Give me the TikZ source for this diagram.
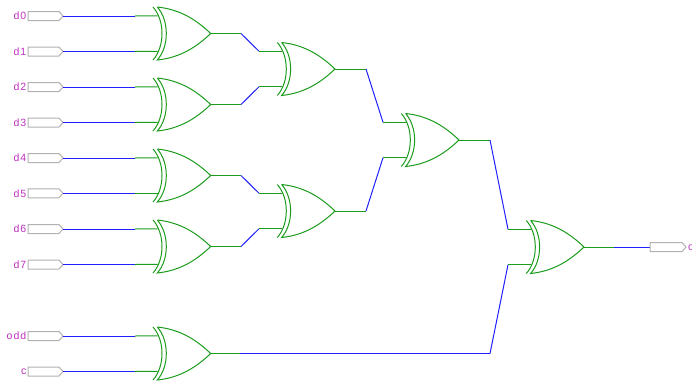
\documentclass[tikz,border=0pt]{standalone}
\usepackage{fontspec}
\setmainfont{Liberation Sans}
\definecolor{gG}{HTML}{1C9C1C}
\definecolor{wB}{HTML}{2020FF}
\definecolor{lP}{HTML}{C030C0}
\tikzset{
  gateline/.style={draw=gG,line width=1pt},
  gw/.style={draw=gG,line width=1pt},
  bw/.style={draw=wB,line width=1pt},
  pin/.style={draw=black!30,line width=1pt,fill=white},
  lab/.style={text=lP,font=\fontsize{10.5}{12}\selectfont,inner sep=0pt,anchor=east},
  xorg/.pic={
    \draw[gateline] (-26.7,-26.5) .. controls (-3,-24) and (13,-13) .. (26.7,0)
       .. controls (13,13) and (-3,24) .. (-26.7,26.5)
       .. controls (-14.7,13) and (-14.7,-13) .. (-26.7,-26.5);
    \draw[gateline] (-31,-26.5) .. controls (-19,-13) and (-19,13) .. (-31,26.5);
    \coordinate (-in1) at (-26.5,-17.75);
    \coordinate (-in2) at (-26.5,17.75);
    \coordinate (-out) at (26.7,0);
  }
}
\newcommand{\inpin}[3]{% name, y, label
  \node[lab] (l#1) at (26.5,#2) {\addfontfeature{LetterSpace=10}#3};
  \draw[pin] (28,#2-4.5) -- (59,#2-4.5) -- (63,#2) -- (59,#2+4.5) -- (28,#2+4.5) -- cycle;
  \coordinate (#1) at (63,#2);
  \coordinate (#1m) at (135,#2);
}
\begin{document}
\begin{tikzpicture}[x=1pt,y=-1pt]
\useasboundingbox (0,0) rectangle (692,381);
\fill[white] (0,0) rectangle (692,381);
\pic (g1) at (184,33.5) {xorg};
\pic (g2) at (184,104.5) {xorg};
\pic (g3) at (184,175.5) {xorg};
\pic (g4) at (184,246.5) {xorg};
\pic (g5) at (184,353.5) {xorg};
\pic (h1) at (308.3,69) {xorg};
\pic (h2) at (308.3,211) {xorg};
\pic (k1) at (432.3,140) {xorg};
\pic (m1) at (557.3,247) {xorg};
\inpin{d0}{16}{d0}
\inpin{d1}{51.5}{d1}
\inpin{d2}{87}{d2}
\inpin{d3}{122.5}{d3}
\inpin{d4}{158}{d4}
\inpin{d5}{193.25}{d5}
\inpin{d6}{229}{d6}
\inpin{d7}{264.5}{d7}
\inpin{odd}{336}{odd}
\inpin{c}{371.5}{c}
% input wires
\foreach \p/\g/\i in {d0/g1/in1,d1/g1/in2,d2/g2/in1,d3/g2/in2,d4/g3/in1,d5/g3/in2,d6/g4/in1,d7/g4/in2,odd/g5/in1,c/g5/in2}{
  \draw[bw] (\p) -- (\p m);
  \draw[gw] (\p m) -- (\g-\i);
}
% level joins
\coordinate (a1) at (241,33.5); \coordinate (b1) at (259,51.25);
\coordinate (a2) at (241,104.5); \coordinate (b2) at (259,86.75);
\coordinate (a3) at (241,175.5); \coordinate (b3) at (259,193.25);
\coordinate (a4) at (241,246.5); \coordinate (b4) at (259,228.75);
\foreach \g/\n/\h/\i in {g1/1/h1/in1,g2/2/h1/in2,g3/3/h2/in1,g4/4/h2/in2}{
  \draw[gw] (\g-out) -- (a\n);
  \draw[bw] (a\n) -- (b\n);
  \draw[gw] (b\n) -- (\h-\i);
}
\coordinate (a5) at (366,69); \coordinate (b5) at (383,122.25);
\coordinate (a6) at (366,211); \coordinate (b6) at (383,157.75);
\foreach \g/\n/\i in {h1/5/in1,h2/6/in2}{
  \draw[gw] (\g-out) -- (a\n);
  \draw[bw] (a\n) -- (b\n);
  \draw[gw] (b\n) -- (k1-\i);
}
\coordinate (a7) at (490,140); \coordinate (b7) at (508,229.25);
\coordinate (a8) at (490,353.5); \coordinate (b8) at (508,264.75);
\coordinate (a9) at (240,353.5);
\draw[gw] (k1-out) -- (a7);
\draw[bw] (a7) -- (b7);
\draw[gw] (b7) -- (m1-in1);
\draw[gw] (g5-out) -- (a9);
\draw[bw] (a9) -- (a8);
\draw[bw] (a8) -- (b8);
\draw[gw] (b8) -- (m1-in2);
% output
\coordinate (oj) at (614,247);
\coordinate (op) at (650,247);
\draw[gw] (m1-out) -- (oj);
\draw[bw] (oj) -- (op);
\draw[pin] (650,242.5) -- (682,242.5) -- (686,247) -- (682,251.5) -- (650,251.5) -- cycle;
\begin{scope}
\clip (0,0) rectangle (692,381);
\node[text=lP,font=\fontsize{10.5}{12}\selectfont,inner sep=0pt,anchor=west] (lo) at (688,248) {o};
\end{scope}
\end{tikzpicture}
\end{document}
